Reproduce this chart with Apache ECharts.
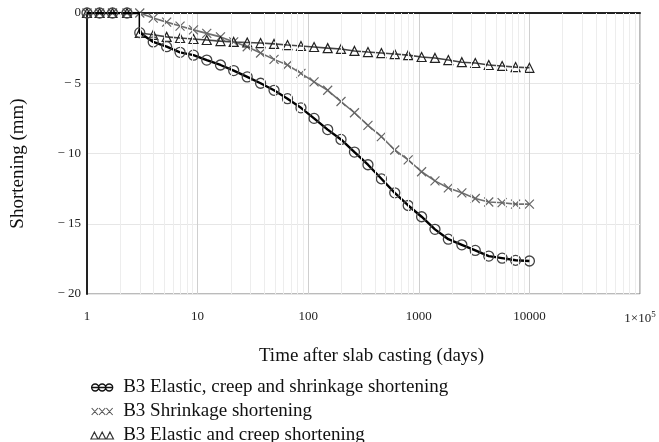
<!DOCTYPE html>
<html>
<head>
<meta charset="utf-8">
<script src="https://cdn.jsdelivr.net/npm/echarts@6/dist/echarts.min.js"></script>
<style>
  html, body { margin: 0; padding: 0; background: #fff; }
  #chart { width: 659px; height: 442px; }
</style>
</head>
<body>
<div id="chart"></div>
<script>
// days before the drop (slab not yet loaded)
var preDays = [1, 1.3, 1.7, 2.3, 3];
// sample days after casting (log spaced)
var days = [3, 3.97, 5.25, 6.94, 9.18, 12.1, 16.1, 21.2, 28.1, 37.1, 49.1, 65, 86, 113, 150,
  198, 262, 347, 459, 606, 802, 1060, 1400, 1850, 2450, 3240, 4290, 5670, 7500, 10000];

// shortening (mm)
var totalShort = [-1.4, -2.06, -2.4, -2.8, -3.0, -3.35, -3.7, -4.1, -4.55, -5.0, -5.5, -6.1, -6.75, -7.5, -8.3,
  -9.0, -9.9, -10.8, -11.8, -12.8, -13.7, -14.5, -15.4, -16.1, -16.5, -16.9, -17.3, -17.45, -17.6, -17.65];
var shrinkShort = [0, -0.36, -0.65, -0.93, -1.2, -1.45, -1.7, -2.05, -2.4, -2.85, -3.3, -3.7, -4.3, -4.9, -5.5,
  -6.3, -7.1, -8.0, -8.8, -9.75, -10.45, -11.3, -11.95, -12.45, -12.8, -13.2, -13.45, -13.5, -13.6, -13.6];
var creepShort = [-1.42, -1.55, -1.7, -1.78, -1.85, -1.92, -2.0, -2.06, -2.1, -2.14, -2.2, -2.28, -2.35, -2.42, -2.5,
  -2.56, -2.7, -2.78, -2.85, -2.92, -3.0, -3.13, -3.2, -3.35, -3.5, -3.56, -3.7, -3.77, -3.85, -3.9];

var minorX = [2, 3, 4, 5, 6, 7, 8, 9, 20, 30, 40, 50, 60, 70, 80, 90, 200, 300, 400, 500, 600, 700, 800, 900,
  2000, 3000, 4000, 5000, 6000, 7000, 8000, 9000, 20000, 30000, 40000, 50000, 60000, 70000, 80000, 90000];

var names = ['B3 Elastic, creep and shrinkage shortening', 'B3 Shrinkage shortening', 'B3 Elastic and creep shortening'];

function build(vals, dropAt3) {
  var out = [];
  preDays.forEach(function (d, i) {
    var p = { value: [d, 0] };
    if (dropAt3 && i === preDays.length - 1) p.symbol = 'none';
    out.push(p);
  });
  days.forEach(function (d, i) {
    if (!dropAt3 && i === 0) return;
    out.push([d, vals[i]]);
  });
  return out;
}

var serif = 'Liberation Serif, Times New Roman, serif';
var crossPath = 'path://M0,0L10,10M0,10L10,0';

var chart = echarts.init(document.getElementById('chart'));
chart.setOption({
  animation: false,
  grid: { left: 87, right: 19, top: 13, bottom: 148, show: true, borderColor: '#777', borderWidth: 1 },
  xAxis: {
    type: 'log', logBase: 10, min: 1, max: 100000,
    name: 'Time after slab casting (days)', nameLocation: 'middle', nameGap: 53,
    nameTextStyle: { fontFamily: serif, fontSize: 19, color: '#111', padding: [0, 0, 0, 16] },
    axisLine: { lineStyle: { color: '#222', width: 2 } },
    axisTick: { show: false },
    axisLabel: {
      margin: 16, fontFamily: serif, fontSize: 13, color: '#222',
      formatter: function (v) {
        if (v >= 99999) return '1×10{sup|5}';
        return String(Math.round(v));
      },
      rich: { sup: { fontSize: 9, verticalAlign: 'top', fontFamily: serif, color: '#222', padding: [0, 0, 8, 0] } }
    },
    splitLine: { show: true, lineStyle: { color: '#cfcfcf', width: 1 } }
  },
  yAxis: {
    type: 'value', min: -20, max: 0, interval: 5,
    name: 'Shortening (mm)', nameLocation: 'middle', nameGap: 59,
    nameTextStyle: { fontFamily: serif, fontSize: 19, color: '#111', padding: [0, 20, 0, 0] },
    axisLine: { show: true, lineStyle: { color: '#222', width: 2 } },
    axisTick: { show: false },
    axisLabel: {
      margin: 6, fontFamily: serif, fontSize: 13, color: '#222',
      formatter: function (v) { return v === 0 ? '0' : '− ' + Math.abs(v); }
    },
    splitLine: { show: true, lineStyle: { color: '#e6e6e6', width: 1 } }
  },
  legend: {
    orient: 'vertical', left: 88, top: 378, itemGap: 5, padding: 0, height: 90,
    itemWidth: 32, itemHeight: 7,
    textStyle: { fontFamily: serif, fontSize: 19, color: '#111', lineHeight: 19 },
    data: [
      { name: names[0], icon: 'path://M0,5A5,5 0 1,1 10,5A5,5 0 1,1 0,5M10,5A5,5 0 1,1 20,5A5,5 0 1,1 10,5M20,5A5,5 0 1,1 30,5A5,5 0 1,1 20,5M0,5L30,5',
        itemStyle: { color: 'none', borderColor: '#111', borderWidth: 1.4 } },
      { name: names[1], icon: 'path://M0,0L9,10M0,10L9,0M10.5,0L19.5,10M10.5,10L19.5,0M21,0L30,10M21,10L30,0',
        itemStyle: { color: 'none', borderColor: '#555', borderWidth: 1.1 } },
      { name: names[2], icon: 'path://M0.5,10L5,1L9.5,10ZM10.5,10L15,1L19.5,10ZM20.5,10L25,1L29.5,10ZM0,10L30,10',
        itemStyle: { color: 'none', borderColor: '#333', borderWidth: 1.2 } }
    ]
  },
  series: [
    {
      name: names[0], type: 'line', data: build(totalShort, true), z: 4,
      symbol: 'circle', symbolSize: 10,
      itemStyle: { color: 'rgba(0,0,0,0)', borderColor: '#444', borderWidth: 1.3 },
      lineStyle: { color: '#000', width: 2.4 },
      markLine: {
        silent: true, symbol: 'none', label: { show: false },
        lineStyle: { color: '#ededed', width: 1, type: 'solid' },
        data: minorX.map(function (d) { return { xAxis: d }; })
      }
    },
    {
      name: names[1], type: 'line', data: build(shrinkShort, false), z: 3,
      symbol: crossPath, symbolSize: 9,
      itemStyle: { color: 'none', borderColor: '#666', borderWidth: 1.2 },
      lineStyle: { color: '#6f6f6f', width: 1.6 }
    },
    {
      name: names[2], type: 'line', data: build(creepShort, true), z: 3,
      symbol: 'triangle', symbolSize: 9,
      itemStyle: { color: 'rgba(0,0,0,0)', borderColor: '#222', borderWidth: 1.2 },
      lineStyle: { color: '#444', width: 1.6 }
    }
  ]
});
</script>
</body>
</html>
